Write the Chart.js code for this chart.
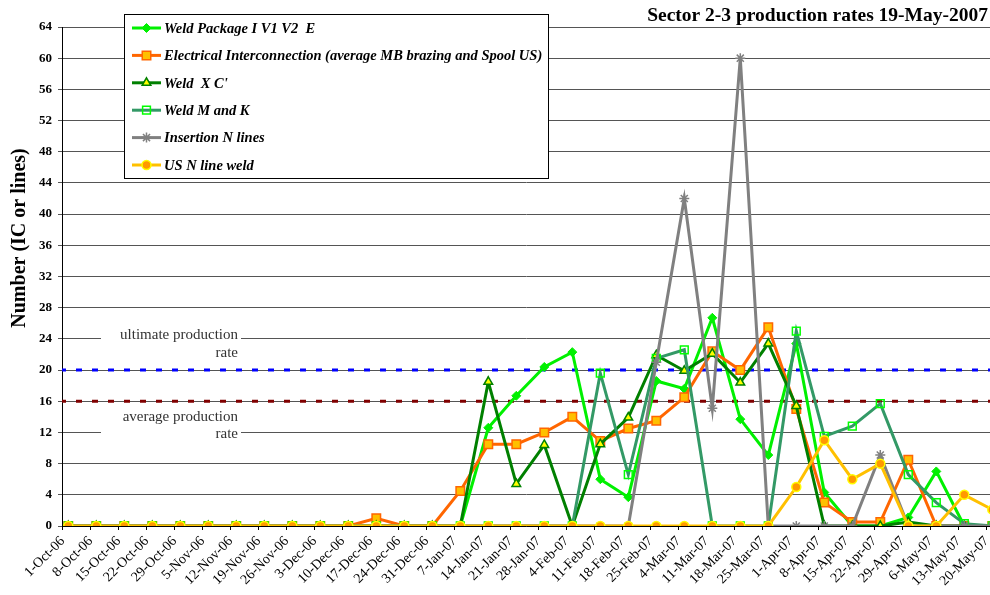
<!DOCTYPE html>
<html>
<head>
<meta charset="utf-8">
<script src="https://cdn.jsdelivr.net/npm/chart.js@4.4.0/dist/chart.umd.min.js"></script>
<style>
html,body{margin:0;padding:0;background:#fff;overflow:hidden}
#wrap{position:relative;width:990px;height:595px}
</style>
</head>
<body>
<div id="wrap"><canvas id="c" width="990" height="595"></canvas></div>
<script>
// ---------- DATA ----------
const CATEGORIES = ['1-Oct-06','8-Oct-06','15-Oct-06','22-Oct-06','29-Oct-06','5-Nov-06','12-Nov-06','19-Nov-06','26-Nov-06','3-Dec-06','10-Dec-06','17-Dec-06','24-Dec-06','31-Dec-06','7-Jan-07','14-Jan-07','21-Jan-07','28-Jan-07','4-Feb-07','11-Feb-07','18-Feb-07','25-Feb-07','4-Mar-07','11-Mar-07','18-Mar-07','25-Mar-07','1-Apr-07','8-Apr-07','15-Apr-07','22-Apr-07','29-Apr-07','6-May-07','13-May-07','20-May-07'];

const SERIES_NAMES = [
  'Weld Package I V1 V2  E',
  'Electrical Interconnection (average MB brazing and Spool US)',
  "Weld  X C'",
  'Weld M and K',
  'Insertion N lines',
  'US N line weld'
];

const WELD_PACKAGE = [0,0,0,0,0,0,0,0,0,0,0,0,0,0,0, 12.6,16.7,20.4,22.3,6.0,3.7,18.6,17.6,26.7,13.7,9.1,23.4,4.3,0,0,1.1,7.0,0,0];
const ELECTRICAL   = [0,0,0,0,0,0,0,0,0,0,0, 1.0,0,0,4.5,10.5,10.5,12.0,14.0,10.9,12.5,13.5,16.5,22.4,20.0,25.5,15.0,3.0,0.5,0.5,8.5,0,0,0];
const WELD_XC      = [0,0,0,0,0,0,0,0,0,0,0,0,0,0,0, 18.5,5.4,10.4,0,10.5,13.9,21.9,19.9,22.1,18.4,23.4,15.4,0,0,0,0.5,0,0,0];
const WELD_MK      = [0,0,0,0,0,0,0,0,0,0,0,0,0,0,0,0,0,0,0, 19.6,6.6,21.5,22.6,0,0,0,25.0,11.5,12.8,15.7,6.6,3.0,0.3,0];
const INSERTION    = [0,0,0,0,0,0,0,0,0,0,0,0,0,0,0,0,0,0,0,0,0, 21,42,15.1,60,0,0,0,0,9.1,0,0,0,0];
const US_N_LINE    = [0,0,0,0,0,0,0,0,0,0,0,0,0,0,0,0,0,0,0,0,0,0,0,0,0,0, 5.0,11.0,6.0,8.0,0,0,4.0,2.1];

const ULTIMATE_RATE = 20;
const AVERAGE_RATE = 16;

const Y_TICK_STEP = 4;
const Y_MAX = 64;

// ---------- STYLE ----------
const FONT = "'Liberation Serif', 'Times New Roman', serif";
const X_MIN = -0.225;
const X_MAX = 32.918;

const toXY = arr => arr.map((v, i) => ({x: i, y: v}));

const STYLES = [
  {color:'#00F000', pointStyle:'rectRot',  radius:4.5, bg:'#00F000', border:'#00F000', bw:1},
  {color:'#FF6600', pointStyle:'rect',     radius:6,   bg:'#FFC000', border:'#FF6600', bw:1.5},
  {color:'#008000', pointStyle:'triangle', radius:5,   bg:'#FFFF00', border:'#008000', bw:1.5},
  {color:'#339966', pointStyle:'rect',     radius:5.5, bg:'rgba(0,0,0,0)', border:'#00FF00', bw:1.5},
  {color:'#808080', pointStyle:'star',     radius:5,   bg:'#808080', border:'#808080', bw:1.5},
  {color:'#FFC000', pointStyle:'circle',   radius:4.5, bg:'#FF9900', border:'#FFFF00', bw:1.5}
];

const SERIES = [WELD_PACKAGE, ELECTRICAL, WELD_XC, WELD_MK, INSERTION, US_N_LINE];

const datasets = SERIES.map((arr, i) => ({
  label: SERIES_NAMES[i],
  data: toXY(arr),
  borderColor: STYLES[i].color,
  borderWidth: 3,
  pointStyle: STYLES[i].pointStyle,
  pointRadius: STYLES[i].radius,
  pointBackgroundColor: STYLES[i].bg,
  pointBorderColor: STYLES[i].border,
  pointBorderWidth: STYLES[i].bw,
  tension: 0,
  fill: false,
  order: SERIES.length - i
}));

datasets.push({
  label: 'ultimate production rate',
  data: [{x: X_MIN, y: ULTIMATE_RATE}, {x: X_MAX, y: ULTIMATE_RATE}],
  borderColor: '#0000FF', borderWidth: 3, borderDash: [6, 10], borderDashOffset: 2,
  pointRadius: 0, fill: false, order: 50
});
datasets.push({
  label: 'average production rate',
  data: [{x: X_MIN, y: AVERAGE_RATE}, {x: X_MAX, y: AVERAGE_RATE}],
  borderColor: '#800000', borderWidth: 3, borderDash: [6, 10], borderDashOffset: 2,
  pointRadius: 0, fill: false, order: 50
});

const overlay = {
  id: 'overlay',
  beforeDatasetsDraw(chart) {
    const ctx = chart.ctx;
    ctx.save();
    ctx.fillStyle = '#fff';
    ctx.fillRect(101, 326, 140, 36);
    ctx.fillRect(101, 406, 140, 38);
    ctx.fillStyle = '#333';
    ctx.font = `15px ${FONT}`;
    ctx.textAlign = 'right';
    ctx.textBaseline = 'middle';
    ctx.fillText('ultimate production', 238, 335);
    ctx.fillText('rate', 238, 353);
    ctx.fillText('average production', 238, 417);
    ctx.fillText('rate', 238, 434);
    ctx.restore();
  },
  afterDraw(chart) {
    const ctx = chart.ctx;
    ctx.save();
    // title
    ctx.fillStyle = '#000';
    ctx.font = `bold 19.5px ${FONT}`;
    ctx.textAlign = 'right';
    ctx.textBaseline = 'alphabetic';
    ctx.fillText('Sector 2-3 production rates 19-May-2007', 988, 21);
    // y title
    ctx.save();
    ctx.translate(20, 238);
    ctx.rotate(-Math.PI / 2);
    ctx.textAlign = 'center';
    ctx.textBaseline = 'middle';
    ctx.font = `bold 20px ${FONT}`;
    ctx.fillText('Number (IC or lines)', 0, 0);
    ctx.restore();
    // legend
    ctx.fillStyle = '#fff';
    ctx.fillRect(124, 14, 424, 164);
    ctx.strokeStyle = '#000';
    ctx.lineWidth = 1;
    ctx.setLineDash([]);
    ctx.strokeRect(124.5, 14.5, 424, 164);
    SERIES_NAMES.forEach((name, i) => {
      const ds = chart.data.datasets[i];
      const yy = 28 + i * 27.4;
      ctx.strokeStyle = ds.borderColor;
      ctx.lineWidth = 3;
      ctx.beginPath(); ctx.moveTo(132, yy); ctx.lineTo(161, yy); ctx.stroke();
      ctx.fillStyle = ds.pointBackgroundColor;
      ctx.strokeStyle = ds.pointBorderColor;
      ctx.lineWidth = ds.pointBorderWidth;
      Chart.helpers.drawPoint(ctx, {pointStyle: ds.pointStyle, radius: ds.pointRadius, rotation: 0, borderWidth: ds.pointBorderWidth}, 146.5, yy);
      ctx.fillStyle = '#000';
      ctx.font = `italic bold 14.5px ${FONT}`;
      ctx.textAlign = 'left';
      ctx.textBaseline = 'middle';
      ctx.fillText(name, 164, yy + 1);
    });
    ctx.restore();
  }
};

new Chart(document.getElementById('c'), {
  type: 'line',
  data: { datasets },
  options: {
    responsive: false,
    devicePixelRatio: 1,
    animation: false,
    layout: { autoPadding: false, padding: { top: 27, left: 0, right: 0, bottom: 0 } },
    plugins: { legend: { display: false }, title: { display: false }, tooltip: { enabled: false } },
    scales: {
      x: {
        type: 'linear',
        min: X_MIN,
        max: X_MAX,
        afterBuildTicks: s => { s.ticks = CATEGORIES.map((c, i) => ({ value: i - 0.2 })); },
        ticks: {
          autoSkip: false, minRotation: 45, maxRotation: 45, padding: 3,
          color: '#000', font: { family: FONT, size: 14 },
          callback: v => CATEGORIES[Math.round(v + 0.2)]
        },
        grid: { drawOnChartArea: false, tickLength: 4, color: '#000' },
        border: { color: '#000', width: 1 },
        afterFit: s => { s.height = 69; s.paddingLeft = 0; s.paddingRight = 0; }
      },
      y: {
        min: 0, max: Y_MAX,
        ticks: { stepSize: Y_TICK_STEP, padding: 6, color: '#000', font: { family: FONT, size: 13, weight: 'bold' } },
        grid: { color: '#555', tickLength: 4 },
        border: { color: '#000', width: 1 },
        afterFit: s => { s.width = 62; s.paddingTop = 0; s.paddingBottom = 0; }
      }
    }
  },
  plugins: [overlay]
});
</script>
</body>
</html>
